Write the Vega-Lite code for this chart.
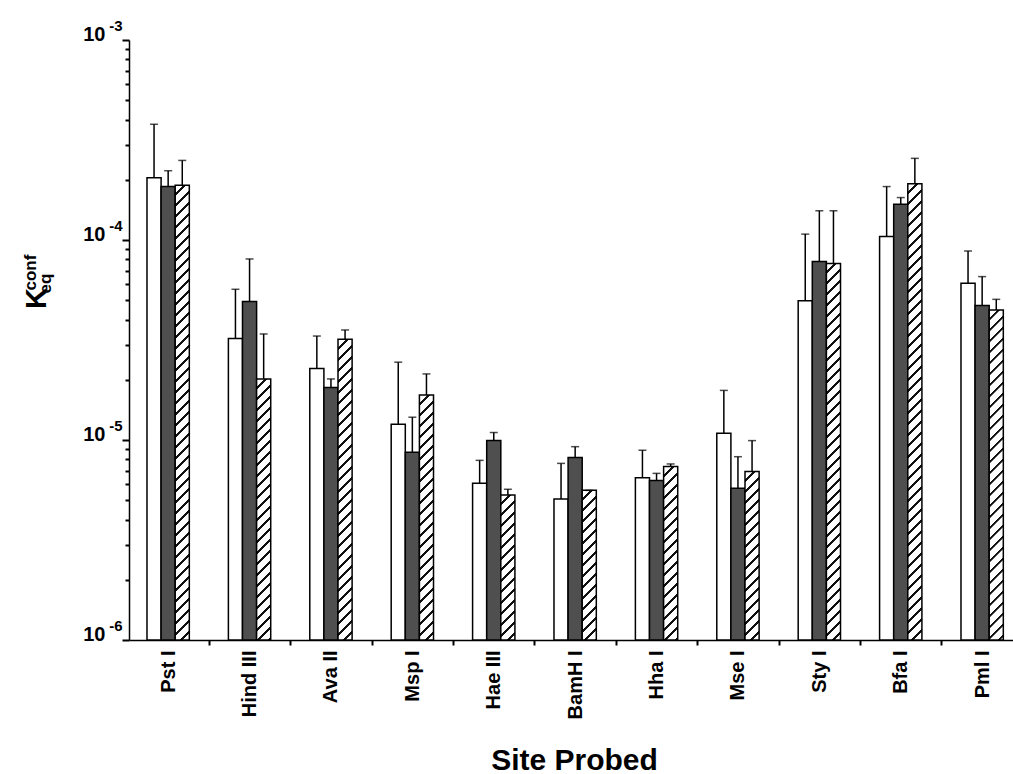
{
  "$schema": "https://vega.github.io/schema/vega-lite/v6.json",
  "width": 884,
  "height": 600,
  "autosize": {"type": "none"},
  "padding": {"left": 129, "top": 40, "right": 0, "bottom": 134},
  "background": "white",
  "config": {
    "view": {"stroke": null},
    "font": "Liberation Sans",
    "axis": {"grid": false, "labelColor": "black", "titleColor": "black", "domainColor": "black", "ticks": true, "tickOpacity": 1, "tickColor": "#000000"}
  },
  "params": [
    {"name": "stripes", "value": [
      {"offset":0,"color":"#fff"},{"offset":0.016,"color":"#fff"},{"offset":0.01644,"color":"#111"},{"offset":0.02178,"color":"#111"},
      {"offset":0.02222,"color":"#fff"},{"offset":0.03822,"color":"#fff"},{"offset":0.03867,"color":"#111"},{"offset":0.044,"color":"#111"},
      {"offset":0.04444,"color":"#fff"},{"offset":0.06044,"color":"#fff"},{"offset":0.06089,"color":"#111"},{"offset":0.06622,"color":"#111"},
      {"offset":0.06667,"color":"#fff"},{"offset":0.08267,"color":"#fff"},{"offset":0.08311,"color":"#111"},{"offset":0.08844,"color":"#111"},
      {"offset":0.08889,"color":"#fff"},{"offset":0.10489,"color":"#fff"},{"offset":0.10533,"color":"#111"},{"offset":0.11067,"color":"#111"},
      {"offset":0.11111,"color":"#fff"},{"offset":0.12711,"color":"#fff"},{"offset":0.12756,"color":"#111"},{"offset":0.13289,"color":"#111"},
      {"offset":0.13333,"color":"#fff"},{"offset":0.14933,"color":"#fff"},{"offset":0.14978,"color":"#111"},{"offset":0.15511,"color":"#111"},
      {"offset":0.15556,"color":"#fff"},{"offset":0.17156,"color":"#fff"},{"offset":0.172,"color":"#111"},{"offset":0.17733,"color":"#111"},
      {"offset":0.17778,"color":"#fff"},{"offset":0.19378,"color":"#fff"},{"offset":0.19422,"color":"#111"},{"offset":0.19956,"color":"#111"},
      {"offset":0.2,"color":"#fff"},{"offset":0.216,"color":"#fff"},{"offset":0.21644,"color":"#111"},{"offset":0.22178,"color":"#111"},
      {"offset":0.22222,"color":"#fff"},{"offset":0.23822,"color":"#fff"},{"offset":0.23867,"color":"#111"},{"offset":0.244,"color":"#111"},
      {"offset":0.24444,"color":"#fff"},{"offset":0.26044,"color":"#fff"},{"offset":0.26089,"color":"#111"},{"offset":0.26622,"color":"#111"},
      {"offset":0.26667,"color":"#fff"},{"offset":0.28267,"color":"#fff"},{"offset":0.28311,"color":"#111"},{"offset":0.28844,"color":"#111"},
      {"offset":0.28889,"color":"#fff"},{"offset":0.30489,"color":"#fff"},{"offset":0.30533,"color":"#111"},{"offset":0.31067,"color":"#111"},
      {"offset":0.31111,"color":"#fff"},{"offset":0.32711,"color":"#fff"},{"offset":0.32756,"color":"#111"},{"offset":0.33289,"color":"#111"},
      {"offset":0.33333,"color":"#fff"},{"offset":0.34933,"color":"#fff"},{"offset":0.34978,"color":"#111"},{"offset":0.35511,"color":"#111"},
      {"offset":0.35556,"color":"#fff"},{"offset":0.37156,"color":"#fff"},{"offset":0.372,"color":"#111"},{"offset":0.37733,"color":"#111"},
      {"offset":0.37778,"color":"#fff"},{"offset":0.39378,"color":"#fff"},{"offset":0.39422,"color":"#111"},{"offset":0.39956,"color":"#111"},
      {"offset":0.4,"color":"#fff"},{"offset":0.416,"color":"#fff"},{"offset":0.41644,"color":"#111"},{"offset":0.42178,"color":"#111"},
      {"offset":0.42222,"color":"#fff"},{"offset":0.43822,"color":"#fff"},{"offset":0.43867,"color":"#111"},{"offset":0.444,"color":"#111"},
      {"offset":0.44444,"color":"#fff"},{"offset":0.46044,"color":"#fff"},{"offset":0.46089,"color":"#111"},{"offset":0.46622,"color":"#111"},
      {"offset":0.46667,"color":"#fff"},{"offset":0.48267,"color":"#fff"},{"offset":0.48311,"color":"#111"},{"offset":0.48844,"color":"#111"},
      {"offset":0.48889,"color":"#fff"},{"offset":0.50489,"color":"#fff"},{"offset":0.50533,"color":"#111"},{"offset":0.51067,"color":"#111"},
      {"offset":0.51111,"color":"#fff"},{"offset":0.52711,"color":"#fff"},{"offset":0.52756,"color":"#111"},{"offset":0.53289,"color":"#111"},
      {"offset":0.53333,"color":"#fff"},{"offset":0.54933,"color":"#fff"},{"offset":0.54978,"color":"#111"},{"offset":0.55511,"color":"#111"},
      {"offset":0.55556,"color":"#fff"},{"offset":0.57156,"color":"#fff"},{"offset":0.572,"color":"#111"},{"offset":0.57733,"color":"#111"},
      {"offset":0.57778,"color":"#fff"},{"offset":0.59378,"color":"#fff"},{"offset":0.59422,"color":"#111"},{"offset":0.59956,"color":"#111"},
      {"offset":0.6,"color":"#fff"},{"offset":0.616,"color":"#fff"},{"offset":0.61644,"color":"#111"},{"offset":0.62178,"color":"#111"},
      {"offset":0.62222,"color":"#fff"},{"offset":0.63822,"color":"#fff"},{"offset":0.63867,"color":"#111"},{"offset":0.644,"color":"#111"},
      {"offset":0.64444,"color":"#fff"},{"offset":0.66044,"color":"#fff"},{"offset":0.66089,"color":"#111"},{"offset":0.66622,"color":"#111"},
      {"offset":0.66667,"color":"#fff"},{"offset":0.68267,"color":"#fff"},{"offset":0.68311,"color":"#111"},{"offset":0.68844,"color":"#111"},
      {"offset":0.68889,"color":"#fff"},{"offset":0.70489,"color":"#fff"},{"offset":0.70533,"color":"#111"},{"offset":0.71067,"color":"#111"},
      {"offset":0.71111,"color":"#fff"},{"offset":0.72711,"color":"#fff"},{"offset":0.72756,"color":"#111"},{"offset":0.73289,"color":"#111"},
      {"offset":0.73333,"color":"#fff"},{"offset":0.74933,"color":"#fff"},{"offset":0.74978,"color":"#111"},{"offset":0.75511,"color":"#111"},
      {"offset":0.75556,"color":"#fff"},{"offset":0.77156,"color":"#fff"},{"offset":0.772,"color":"#111"},{"offset":0.77733,"color":"#111"},
      {"offset":0.77778,"color":"#fff"},{"offset":0.79378,"color":"#fff"},{"offset":0.79422,"color":"#111"},{"offset":0.79956,"color":"#111"},
      {"offset":0.8,"color":"#fff"},{"offset":0.816,"color":"#fff"},{"offset":0.81644,"color":"#111"},{"offset":0.82178,"color":"#111"},
      {"offset":0.82222,"color":"#fff"},{"offset":0.83822,"color":"#fff"},{"offset":0.83867,"color":"#111"},{"offset":0.844,"color":"#111"},
      {"offset":0.84444,"color":"#fff"},{"offset":0.86044,"color":"#fff"},{"offset":0.86089,"color":"#111"},{"offset":0.86622,"color":"#111"},
      {"offset":0.86667,"color":"#fff"},{"offset":0.88267,"color":"#fff"},{"offset":0.88311,"color":"#111"},{"offset":0.88844,"color":"#111"},
      {"offset":0.88889,"color":"#fff"},{"offset":0.90489,"color":"#fff"},{"offset":0.90533,"color":"#111"},{"offset":0.91067,"color":"#111"},
      {"offset":0.91111,"color":"#fff"},{"offset":0.92711,"color":"#fff"},{"offset":0.92756,"color":"#111"},{"offset":0.93289,"color":"#111"},
      {"offset":0.93333,"color":"#fff"},{"offset":0.94933,"color":"#fff"},{"offset":0.94978,"color":"#111"},{"offset":0.95511,"color":"#111"},
      {"offset":0.95556,"color":"#fff"},{"offset":0.97156,"color":"#fff"},{"offset":0.972,"color":"#111"},{"offset":0.97733,"color":"#111"},
      {"offset":0.97778,"color":"#fff"},{"offset":0.99378,"color":"#fff"},{"offset":0.99422,"color":"#111"},{"offset":0.99956,"color":"#111"},
      {"offset":1,"color":"#fff"}
    ]}
  ],
  "data": {"values": [
    {"site": "Pst I", "series": "A", "kconf": 2.05e-4, "upper": 3.79e-4},
    {"site": "Pst I", "series": "B", "kconf": 1.85e-4, "upper": 2.22e-4},
    {"site": "Pst I", "series": "C", "kconf": 1.88e-4, "upper": 2.5e-4},
    {"site": "Hind III", "series": "A", "kconf": 3.22e-5, "upper": 5.67e-5},
    {"site": "Hind III", "series": "B", "kconf": 4.92e-5, "upper": 8.04e-5},
    {"site": "Hind III", "series": "C", "kconf": 2.02e-5, "upper": 3.39e-5},
    {"site": "Ava II", "series": "A", "kconf": 2.28e-5, "upper": 3.31e-5},
    {"site": "Ava II", "series": "B", "kconf": 1.83e-5, "upper": 2.02e-5},
    {"site": "Ava II", "series": "C", "kconf": 3.19e-5, "upper": 3.55e-5},
    {"site": "Msp I", "series": "A", "kconf": 1.2e-5, "upper": 2.45e-5},
    {"site": "Msp I", "series": "B", "kconf": 8.68e-6, "upper": 1.3e-5},
    {"site": "Msp I", "series": "C", "kconf": 1.68e-5, "upper": 2.14e-5},
    {"site": "Hae III", "series": "A", "kconf": 6.07e-6, "upper": 7.91e-6},
    {"site": "Hae III", "series": "B", "kconf": 9.93e-6, "upper": 1.09e-5},
    {"site": "Hae III", "series": "C", "kconf": 5.31e-6, "upper": 5.67e-6},
    {"site": "BamH I", "series": "A", "kconf": 5.07e-6, "upper": 7.64e-6},
    {"site": "BamH I", "series": "B", "kconf": 8.18e-6, "upper": 9.26e-6},
    {"site": "BamH I", "series": "C", "kconf": 5.6e-6, "upper": 5.6e-6},
    {"site": "Hha I", "series": "A", "kconf": 6.48e-6, "upper": 8.88e-6},
    {"site": "Hha I", "series": "B", "kconf": 6.28e-6, "upper": 6.81e-6},
    {"site": "Hha I", "series": "C", "kconf": 7.36e-6, "upper": 7.59e-6},
    {"site": "Mse I", "series": "A", "kconf": 1.08e-5, "upper": 1.77e-5},
    {"site": "Mse I", "series": "B", "kconf": 5.73e-6, "upper": 8.25e-6},
    {"site": "Mse I", "series": "C", "kconf": 6.95e-6, "upper": 9.93e-6},
    {"site": "Sty I", "series": "A", "kconf": 4.97e-5, "upper": 1.07e-4},
    {"site": "Sty I", "series": "B", "kconf": 7.8e-5, "upper": 1.4e-4},
    {"site": "Sty I", "series": "C", "kconf": 7.64e-5, "upper": 1.4e-4},
    {"site": "Bfa I", "series": "A", "kconf": 1.04e-4, "upper": 1.85e-4},
    {"site": "Bfa I", "series": "B", "kconf": 1.51e-4, "upper": 1.63e-4},
    {"site": "Bfa I", "series": "C", "kconf": 1.91e-4, "upper": 2.56e-4},
    {"site": "Pml I", "series": "A", "kconf": 6.07e-5, "upper": 8.81e-5},
    {"site": "Pml I", "series": "B", "kconf": 4.7e-5, "upper": 6.56e-5},
    {"site": "Pml I", "series": "C", "kconf": 4.47e-5, "upper": 5.05e-5}
  ]},
  "encoding": {
    "x": {
      "field": "site", "type": "nominal", "sort": null,
      "scale": {"paddingInner": 0.48, "paddingOuter": 0.17, "align": 0.65},
      "axis": {
        "title": "Site Probed", "titleFontSize": 30, "titleFontWeight": "bold",
        "titleX": 445, "titleY": 129, "titleAlign": "center", "titleBaseline": "alphabetic",
        "labelAngle": -90, "labelAlign": "right", "labelBaseline": "middle",
        "labelFontSize": 20, "labelFontWeight": "bold", "labelPadding": 5,
        "ticks": true, "tickSize": 5, "tickWidth": 2, "tickColor": "#000000", "tickOffset": 40.7, "labelOffset": -40.7,
        "domainWidth": 1.5
      }
    },
    "xOffset": {"field": "series", "type": "nominal", "sort": ["A", "B", "C"]}
  },
  "layer": [
    {
      "mark": {"type": "bar", "stroke": "black", "strokeWidth": 1.5},
      "encoding": {
        "y": {
          "field": "kconf", "type": "quantitative",
          "scale": {"type": "log", "domain": [1e-6, 1e-3], "nice": false},
          "axis": {
            "orient": "left",
            "values": [1e-6, 1e-5, 1e-4, 1e-3],
            "labelExpr": "'10'",
            "labelFontSize": 20, "labelFontWeight": "bold", "labelBaseline": "alphabetic",
            "labelAlign": "right", "labelPadding": 17, "labelFlush": false, "labelOverlap": false, "labelBound": false,
            "ticks": true, "tickSize": 7, "tickWidth": 2, "tickColor": "#000000", "domainWidth": 1.5,
            "title": "K", "titleFontSize": 29, "titleFontWeight": "bold", "titleAngle": -90,
            "titleX": -84, "titleY": 258, "titleAlign": "center", "titleBaseline": "alphabetic"
          }
        },
        "y2": {"datum": 1e-6},
        "fill": {"value": {"expr": "datum.series == 'C' ? {gradient: 'linear', x1: 0, y1: 0, x2: bandwidth('xOffset') * 495 / (pow(bandwidth('xOffset'), 2) + pow(scale('y', 1e-6) - scale('y', datum.kconf), 2)), y2: (scale('y', 1e-6) - scale('y', datum.kconf)) * 495 / (pow(bandwidth('xOffset'), 2) + pow(scale('y', 1e-6) - scale('y', datum.kconf), 2)), stops: stripes} : (datum.series == 'B' ? '#4f4f4f' : '#ffffff')"}}
      }
    },
    {
      "mark": {"type": "rule", "color": "black", "strokeWidth": 1.5},
      "encoding": {
        "y": {
          "field": "kconf", "type": "quantitative",
          "scale": {"type": "log", "domain": [1e-6, 1e-3], "nice": false},
          "axis": {
            "orient": "left",
            "values": [2e-6, 3e-6, 4e-6, 5e-6, 6e-6, 7e-6, 8e-6, 9e-6, 2e-5, 3e-5, 4e-5, 5e-5, 6e-5, 7e-5, 8e-5, 9e-5, 2e-4, 3e-4, 4e-4, 5e-4, 6e-4, 7e-4, 8e-4, 9e-4],
            "labels": false, "domain": false,
            "ticks": true, "tickSize": 4, "tickWidth": 2, "tickColor": "#000000",
            "title": "conf", "titleFontSize": 17, "titleFontWeight": "bold", "titleAngle": -90,
            "titleX": -94, "titleY": 250, "titleAlign": "left", "titleBaseline": "alphabetic"
          }
        },
        "y2": {"field": "upper"}
      }
    },
    {
      "mark": {"type": "tick", "color": "black", "orient": "horizontal", "size": 8, "thickness": 1.5},
      "encoding": {
        "y": {
          "field": "upper", "type": "quantitative",
          "scale": {"type": "log", "domain": [1e-6, 1e-3], "nice": false},
          "axis": {
            "orient": "left",
            "values": [1e-6, 1e-5, 1e-4, 1e-3],
            "labelExpr": "datum.value < 2e-6 ? '-6' : datum.value < 2e-5 ? '-5' : datum.value < 2e-4 ? '-4' : '-3'",
            "labelFontSize": 15, "labelFontWeight": "bold", "labelBaseline": "alphabetic",
            "labelAlign": "right", "labelPadding": 7, "labelOffset": -10,
            "labelFlush": false, "labelOverlap": false, "labelBound": false,
            "domain": false, "ticks": false,
            "title": "eq", "titleFontSize": 17, "titleFontWeight": "bold", "titleAngle": -90,
            "titleX": -79, "titleY": 253, "titleAlign": "left", "titleBaseline": "alphabetic"
          }
        }
      }
    }
  ],
  "resolve": {"axis": {"y": "independent"}}
}
